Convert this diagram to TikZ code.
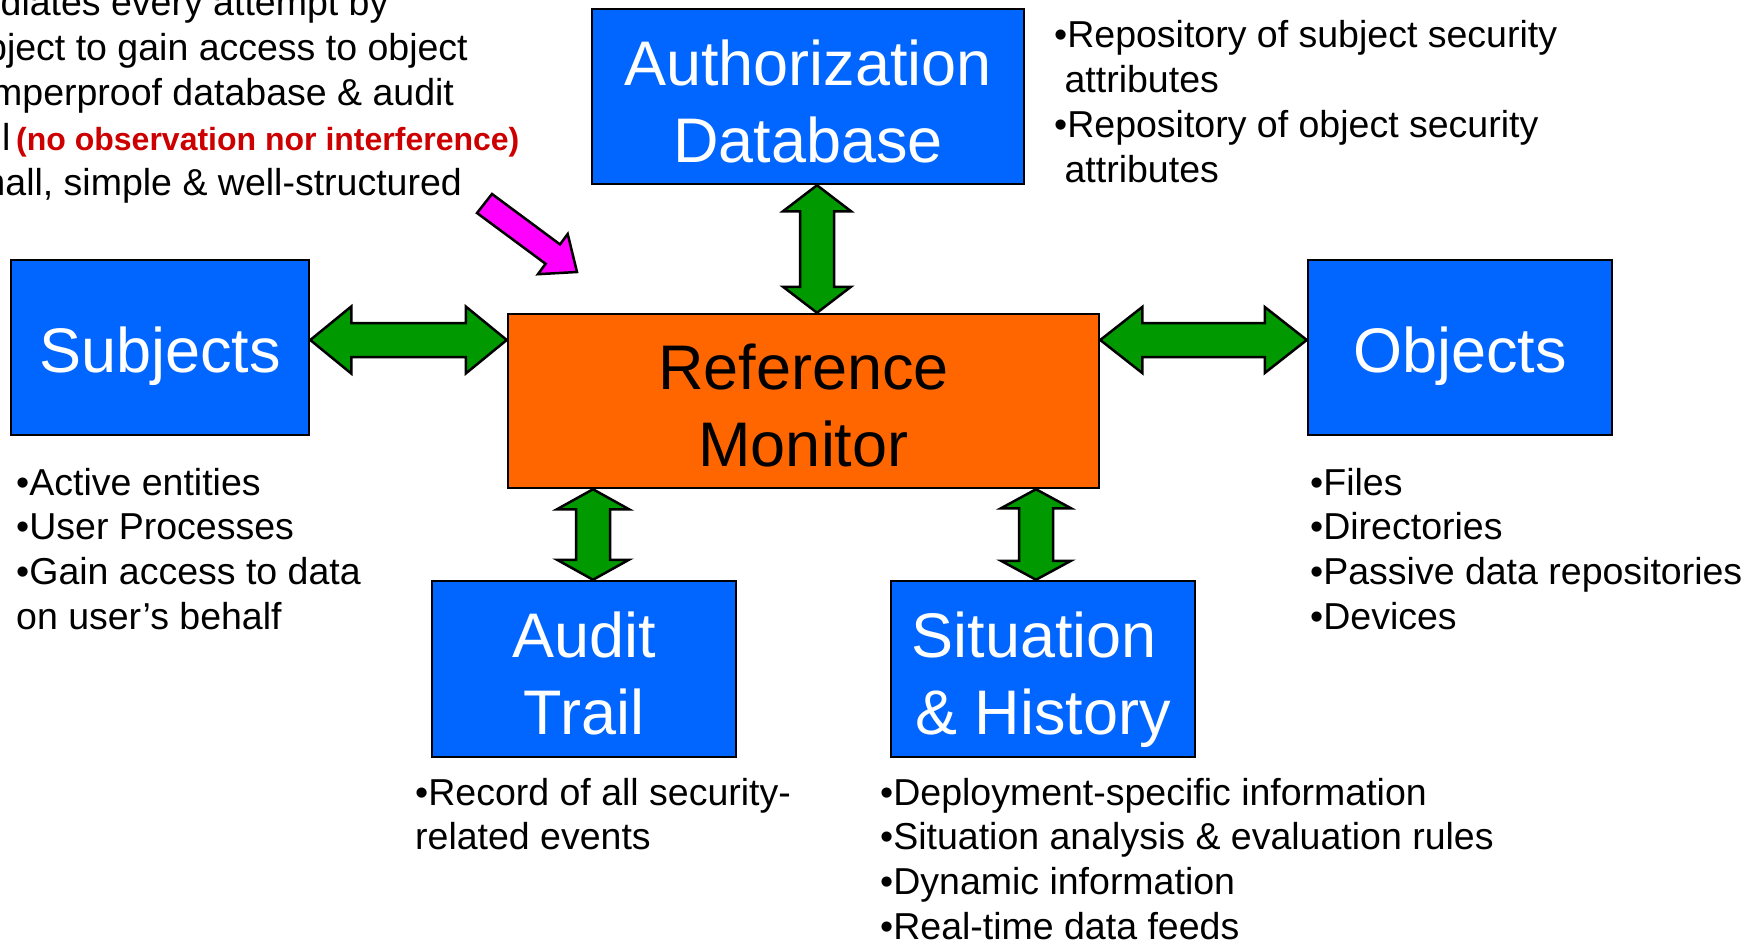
\documentclass[tikz,border=0pt]{standalone}
\usepackage{fontspec}
\setmainfont{Liberation Sans}
\usetikzlibrary{calc}
\definecolor{boxblue}{RGB}{0,102,255}
\definecolor{rmorange}{RGB}{255,102,0}
\definecolor{arrgreen}{RGB}{0,153,0}
\definecolor{pointermagenta}{RGB}{255,0,255}
\definecolor{notered}{RGB}{204,0,0}
\newcommand\toppad{\rule{0pt}{54pt}}
% horizontal double block arrow: #1 left tip, #2 right tip, #3 head length, #4 head half width, #5 shaft half width
\newcommand\harr[5]{%
  \draw[blockarrow] let \p1=#1, \p2=#2 in
   (\x1,\y1) -- (\x1+#3,\y1+#4) -- (\x1+#3,\y1+#5) -- (\x2-#3,\y2+#5) -- (\x2-#3,\y2+#4)
   -- (\x2,\y2) -- (\x2-#3,\y2-#4) -- (\x2-#3,\y2-#5) -- (\x1+#3,\y1-#5) -- (\x1+#3,\y1-#4) -- cycle;}
% vertical double block arrow: #1 top tip, #2 bottom tip
\newcommand\varr[5]{%
  \draw[blockarrow] let \p1=#1, \p2=#2 in
   (\x1,\y1) -- (\x1+#4,\y1-#3) -- (\x1+#5,\y1-#3) -- (\x2+#5,\y2+#3) -- (\x2+#4,\y2+#3)
   -- (\x2,\y2) -- (\x2-#4,\y2+#3) -- (\x2-#5,\y2+#3) -- (\x1-#5,\y1-#3) -- (\x1-#4,\y1-#3) -- cycle;}
\tikzset{
  box/.style={draw=black, line width=2.5pt, inner sep=0pt, align=center, text depth=0pt,
    font=\fontsize{63}{77}\selectfont},
  bluebox/.style={box, fill=boxblue, text=white, minimum width=304pt, minimum height=175pt},
  blockarrow/.style={draw=black, fill=arrgreen, line width=2.5pt, line join=miter},
  txt/.style={anchor=base west, inner sep=0pt, font=\fontsize{37.5}{45}\selectfont},
  redtxt/.style={anchor=base west, inner sep=0pt, text=notered, font=\fontsize{32}{45}\selectfont\bfseries}
}
\begin{document}
\begin{tikzpicture}[x=1pt, y=-1pt]
\useasboundingbox (0,0) rectangle (1756,942);
\clip (0,0) rectangle (1756,942);

% boxes
\node[box, fill=boxblue, text=white, minimum width=432pt, minimum height=175pt] (auth) at (808,96.5) {\toppad Authorization\\Database};
\node[bluebox, minimum width=298pt] (subj) at (160,347.5) {\rule{0pt}{49pt}Subjects};
\node[bluebox] (obj) at (1460,347.5) {\rule{0pt}{49pt}Objects};
\node[box, fill=rmorange, text=black, minimum width=591pt, minimum height=174pt] (rm) at (803.5,401) {\toppad Reference\\Monitor};
\node[bluebox, minimum height=176pt] (audit) at (584,669) {\toppad Audit\\Trail};
\node[bluebox, minimum height=176pt] (sit) at (1043,669) {\toppad Situation\hphantom{\ }\\\& History};

% connectors
\harr{(subj.east |- 0,340)}{(rm.west |- 0,340)}{41}{33.5}{17}
\harr{(rm.east |- 0,340)}{(obj.west |- 0,340)}{42}{33}{17}
\varr{(auth.south -| 817,0)}{(rm.north -| 817,0)}{26}{34}{17}
\varr{(rm.south -| 593,0)}{(audit.north -| 593,0)}{20}{36}{17}
\varr{(rm.south -| 1036,0)}{(sit.north -| 1036,0)}{19}{35}{17}

% magenta pointer
\draw[fill=pointermagenta, line width=2.5pt, line join=miter]
  (492,194) -- (560,244.4) -- (567.7,234) -- (577,272) -- (537.9,274.2) -- (545.6,263.8) -- (477,213) -- cycle;

% top-left text (cut by the picture edge)
\node[txt] (tl1) at (0.5,16) {diates every attempt by};
\node[txt] (tl2) at (-14,60.8) {bject to gain access to object};
\node[txt] (tl3) at (-9,105.6) {mperproof database \& audit};
\node[txt] (tl4) at (2,150.4) {l};
\node[redtxt] (tl4r) at (16,150.4) {(no observation nor interference)};
\node[txt] (tl5) at (-26,195.2) {mall, simple \& well-structured};

% authorization notes
\node[txt] (a1) at (1054,48) {•Repository of subject security};
\node[txt] (a2) at (1064.4,92.8) {attributes};
\node[txt] (a3) at (1054,137.6) {•Repository of object security};
\node[txt] (a4) at (1064.4,182.4) {attributes};

% subjects notes
\node[txt] (s1) at (16,495) {•Active entities};
\node[txt] (s2) at (16,539.8) {•User Processes};
\node[txt] (s3) at (16,584.6) {•Gain access to data};
\node[txt] (s4) at (16,629.4) {on user’s behalf};

% objects notes
\node[txt] (o1) at (1310,495) {•Files};
\node[txt] (o2) at (1310,539.8) {•Directories};
\node[txt] (o3) at (1310,584.6) {•Passive data repositories};
\node[txt] (o4) at (1310,629.4) {•Devices};

% audit notes
\node[txt] (u1) at (415,805) {•Record of all security-};
\node[txt] (u2) at (415,849.8) {related events};

% situation notes
\node[txt] (h1) at (880,805) {•Deployment-specific information};
\node[txt] (h2) at (880,849.8) {•Situation analysis \& evaluation rules};
\node[txt] (h3) at (880,894.6) {•Dynamic information};
\node[txt] (h4) at (880,939.4) {•Real-time data feeds};
\end{tikzpicture}
\end{document}
